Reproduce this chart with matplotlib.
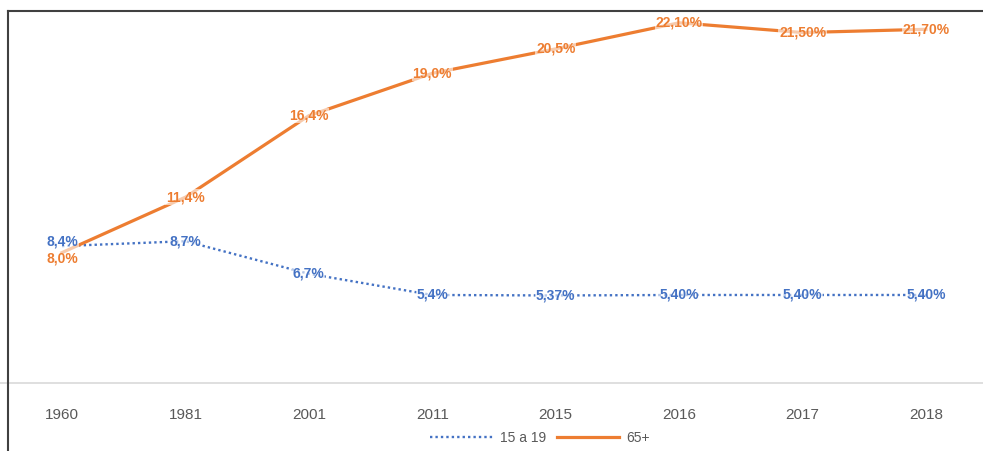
import matplotlib
matplotlib.use("Agg")
import matplotlib.pyplot as plt
from matplotlib.lines import Line2D
from matplotlib import font_manager

years = ["1960", "1981", "2001", "2011", "2015", "2016", "2017", "2018"]
teen = [8.4, 8.7, 6.7, 5.4, 5.37, 5.40, 5.40, 5.40]
teen_labels = ["8,4%", "8,7%", "6,7%", "5,4%", "5,37%", "5,40%", "5,40%", "5,40%"]
old = [8.0, 11.4, 16.4, 19.0, 20.5, 22.1, 21.5, 21.7]
old_labels = ["8,0%", "11,4%", "16,4%", "19,0%", "20,5%", "22,10%", "21,50%", "21,70%"]
series_names = ["15 a 19", "65+"]

avail = {f.name for f in font_manager.fontManager.ttflist}
fam = ["Liberation Sans Narrow", "DejaVu Sans"] if "Liberation Sans Narrow" in avail else ["Liberation Sans", "DejaVu Sans"]
plt.rcParams["font.family"] = fam

W, H = 983, 451
fig = plt.figure(figsize=(W / 100, H / 100), dpi=100)
ax = fig.add_axes([0, (H - 383) / H, 1, (383 - 11) / H])

blue = "#4472C4"
orange = "#ED7D31"
x = list(range(len(years)))

ax.plot(x, teen, color=blue, lw=1.7, ls=(0, (1, 1.3)), zorder=2)
ax.plot(x, old, color=orange, lw=2.3, zorder=2)

# small vertical nudges (points) where the two series' labels collide
old_dy = [-4, 0, 0, 0, 0, 0, 0, 0]
teen_dy = [3, 0, 0, 0, 0, 0, 0, 0]

for xi, v, t, dy in zip(x, old, old_labels, old_dy):
    ax.annotate(t, (xi, v), xytext=(0, dy), textcoords="offset points",
                ha="center", va="center", fontsize=10, color=orange,
                fontweight="bold", zorder=3,
                bbox=dict(boxstyle="square,pad=0.05", fc="white", ec="none", alpha=0.6))
for xi, v, t, dy in zip(x, teen, teen_labels, teen_dy):
    ax.annotate(t, (xi, v), xytext=(0, dy), textcoords="offset points",
                ha="center", va="center", fontsize=10, color=blue,
                fontweight="bold", zorder=4,
                bbox=dict(boxstyle="square,pad=0.05", fc="white", ec="none", alpha=0.6))

step = (926 - 62) / 7
ax.set_xlim(-62 / step, 7 + (W - 926) / step)
ax.set_ylim(0, 372 / 16.3)
ax.set_xticks(x)
ax.set_xticklabels(years, fontsize=11, color="#595959")
ax.tick_params(axis="x", length=0, pad=18)
ax.set_yticks([])
for s in ["top", "right", "left"]:
    ax.spines[s].set_visible(False)
ax.spines["bottom"].set_color("#d9d9d9")
ax.spines["bottom"].set_linewidth(1.2)
ax.patch.set_alpha(0)

handles = [Line2D([], [], color=blue, lw=1.7, ls=(0, (1, 1.3))),
           Line2D([], [], color=orange, lw=2.3)]
fig.legend(handles, series_names, loc="center", bbox_to_anchor=(540 / W, 1 - 438 / H),
           ncol=2, frameon=False, fontsize=10, labelcolor="#595959",
           handlelength=4.5, columnspacing=0.8, handletextpad=0.5)

# outer frame (top and left)
fig.add_artist(Line2D([8 / W, 1], [1 - 11 / H, 1 - 11 / H], color="#404040", lw=1.5,
                      transform=fig.transFigure))
fig.add_artist(Line2D([8 / W, 8 / W], [1 - 11 / H, 0], color="#404040", lw=1.5,
                      transform=fig.transFigure))

fig.savefig("out.png", dpi=100)
